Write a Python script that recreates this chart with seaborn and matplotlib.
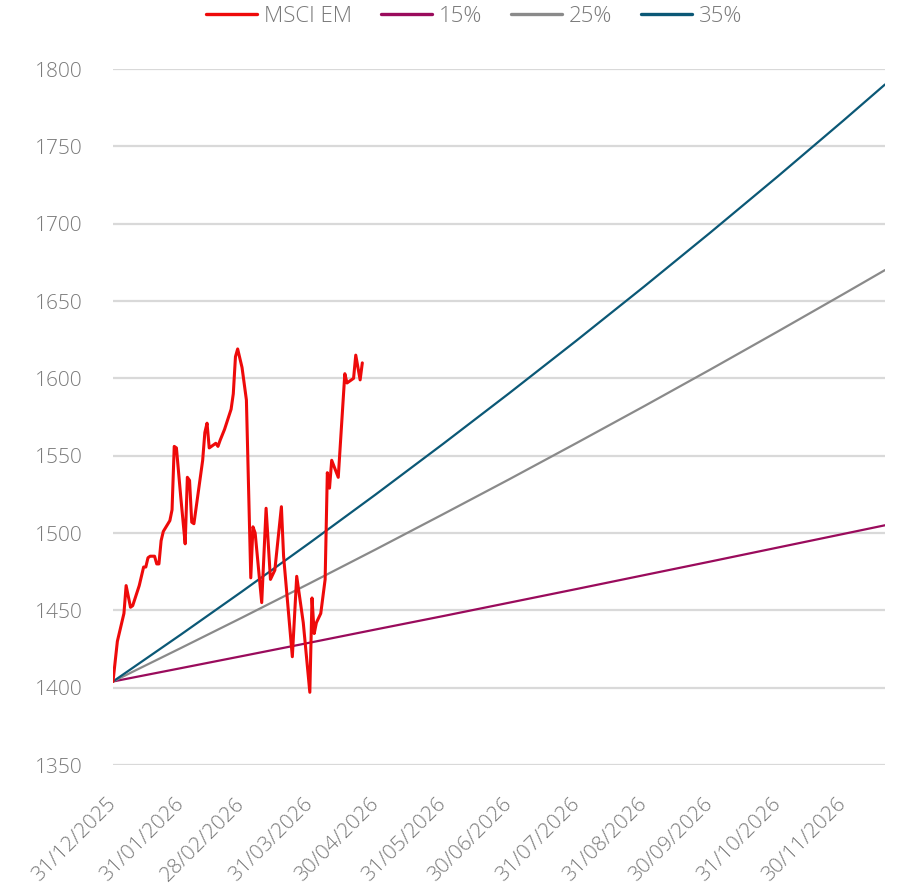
import matplotlib
matplotlib.use("Agg")
import matplotlib.pyplot as plt
import matplotlib.dates as mdates
import seaborn as sns
import pandas as pd

# ---- data ----
em_dates = [
    "2025-12-31", "2026-01-02", "2026-01-05", "2026-01-06", "2026-01-08", "2026-01-09",
    "2026-01-12", "2026-01-14", "2026-01-15", "2026-01-16", "2026-01-17", "2026-01-19",
    "2026-01-20", "2026-01-21", "2026-01-22", "2026-01-23", "2026-01-26", "2026-01-27",
    "2026-01-28", "2026-01-29", "2026-01-31", "2026-02-01", "2026-02-02", "2026-02-03",
    "2026-02-04", "2026-02-05", "2026-02-06", "2026-02-10", "2026-02-11", "2026-02-12",
    "2026-02-13", "2026-02-15", "2026-02-16", "2026-02-17", "2026-02-18", "2026-02-20",
    "2026-02-23", "2026-02-24", "2026-02-25", "2026-02-26", "2026-02-28", "2026-03-02",
    "2026-03-04", "2026-03-05", "2026-03-06", "2026-03-09", "2026-03-11", "2026-03-13",
    "2026-03-15", "2026-03-18", "2026-03-19", "2026-03-23", "2026-03-25", "2026-03-28",
    "2026-03-31", "2026-04-01", "2026-04-02", "2026-04-03", "2026-04-05", "2026-04-06",
    "2026-04-07", "2026-04-08", "2026-04-09", "2026-04-10", "2026-04-13", "2026-04-16",
    "2026-04-17", "2026-04-19", "2026-04-20", "2026-04-21", "2026-04-23", "2026-04-24",
]
em_values = [
    1404, 1430, 1448, 1466, 1452, 1453,
    1466, 1478, 1478, 1484, 1485, 1485,
    1480, 1480, 1495, 1501, 1508, 1515,
    1556, 1555, 1523, 1508, 1493, 1536,
    1534, 1507, 1506, 1547, 1565, 1571,
    1555, 1557, 1558, 1556, 1560, 1567,
    1580, 1590, 1614, 1619, 1607, 1586,
    1471, 1504, 1500, 1455, 1516, 1470,
    1476, 1517, 1485, 1420, 1472, 1442,
    1397, 1458, 1435, 1442, 1448, 1459,
    1470, 1539, 1529, 1547, 1536, 1603,
    1597, 1599, 1600, 1615, 1599, 1610,
]

proj_dates = ["2025-12-31", "2026-01-31", "2026-02-28", "2026-03-31", "2026-04-30",
              "2026-05-31", "2026-06-30", "2026-07-31", "2026-08-31", "2026-09-30",
              "2026-10-31", "2026-11-30", "2026-12-19"]
p15 = [1404, 1412.6, 1420.4, 1429.1, 1437.6, 1446.3, 1454.9, 1463.8, 1472.8,
       1481.5, 1490.6, 1499.4, 1505]
p25 = [1404, 1425.6, 1445.3, 1467.5, 1489.3, 1512.2, 1534.6, 1558.2, 1582.1,
       1605.6, 1630.3, 1654.5, 1670]
p35 = [1404, 1434.3, 1462.2, 1493.7, 1524.8, 1557.7, 1590.2, 1624.5, 1659.5,
       1694.1, 1730.6, 1766.7, 1790]

tick_dates = ["2025-12-31", "2026-01-31", "2026-02-28", "2026-03-31", "2026-04-30",
              "2026-05-31", "2026-06-30", "2026-07-31", "2026-08-31", "2026-09-30",
              "2026-10-31", "2026-11-30"]
y_ticks = [1350, 1400, 1450, 1500, 1550, 1600, 1650, 1700, 1750, 1800]

labels = ["MSCI EM", "15%", "25%", "35%"]
colors = ["#ee0a0a", "#9a0b5c", "#8a8a8a", "#0b5876"]

# ---- plot ----
sns.set_theme(style="white")
plt.rcParams["font.family"] = ["Open Sans", "DejaVu Sans"]

fig = plt.figure(figsize=(8.98, 8.88), dpi=100)
ax = fig.add_axes([113 / 898, 1 - 765 / 888, (885 - 113) / 898, (765 - 69) / 888])

em = pd.DataFrame({"date": pd.to_datetime(em_dates), "value": em_values})
pr = pd.DataFrame({"date": pd.to_datetime(proj_dates), "p15": p15, "p25": p25, "p35": p35})

sns.lineplot(data=pr, x="date", y="p15", ax=ax, color=colors[1], lw=1.6, label=labels[1], zorder=3)
sns.lineplot(data=pr, x="date", y="p25", ax=ax, color=colors[2], lw=1.6, label=labels[2], zorder=3)
sns.lineplot(data=pr, x="date", y="p35", ax=ax, color=colors[3], lw=1.6, label=labels[3], zorder=3)
sns.lineplot(data=em, x="date", y="value", ax=ax, color=colors[0], lw=2.2, label=labels[0], zorder=4)

ax.set_xlim(pd.Timestamp(proj_dates[0]), pd.Timestamp(proj_dates[-1]))
ax.set_ylim(1350, 1800)
ax.set_yticks(y_ticks)
ax.set_xticks(pd.to_datetime(tick_dates))
ax.xaxis.set_major_formatter(mdates.DateFormatter("%d/%m/%Y"))
ax.set_xlabel("")
ax.set_ylabel("")

ax.grid(axis="y", color="#d9d9d9", lw=1.6, zorder=0)
ax.grid(axis="x", visible=False)
for s in ax.spines.values():
    s.set_visible(False)
ax.set_clip_on(False)

ax.tick_params(axis="y", length=0, pad=22, labelsize=15, labelcolor="#7a7a7a")
ax.tick_params(axis="x", length=0, pad=26, labelsize=15, labelcolor="#7a7a7a")
for t in ax.get_xticklabels():
    t.set_rotation(45)
    t.set_ha("right")
    t.set_va("center")
    t.set_rotation_mode("anchor")
    t.set_fontweight("light")
for t in ax.get_yticklabels():
    t.set_fontweight("light")

ax.get_legend().remove()
h, l = ax.get_legend_handles_labels()
order = [l.index(x) for x in labels]
leg = fig.legend([h[i] for i in order], [l[i] for i in order], loc="center",
                 bbox_to_anchor=(474 / 898, 1 - 16 / 888), ncol=4, frameon=False,
                 fontsize=16, handlelength=2.3, handletextpad=0.3, columnspacing=1.3)
for t in leg.get_texts():
    t.set_color("#7a7a7a")
    t.set_fontweight("light")
for line in leg.get_lines():
    line.set_linewidth(2.4)

fig.savefig("out.png", dpi=100)
